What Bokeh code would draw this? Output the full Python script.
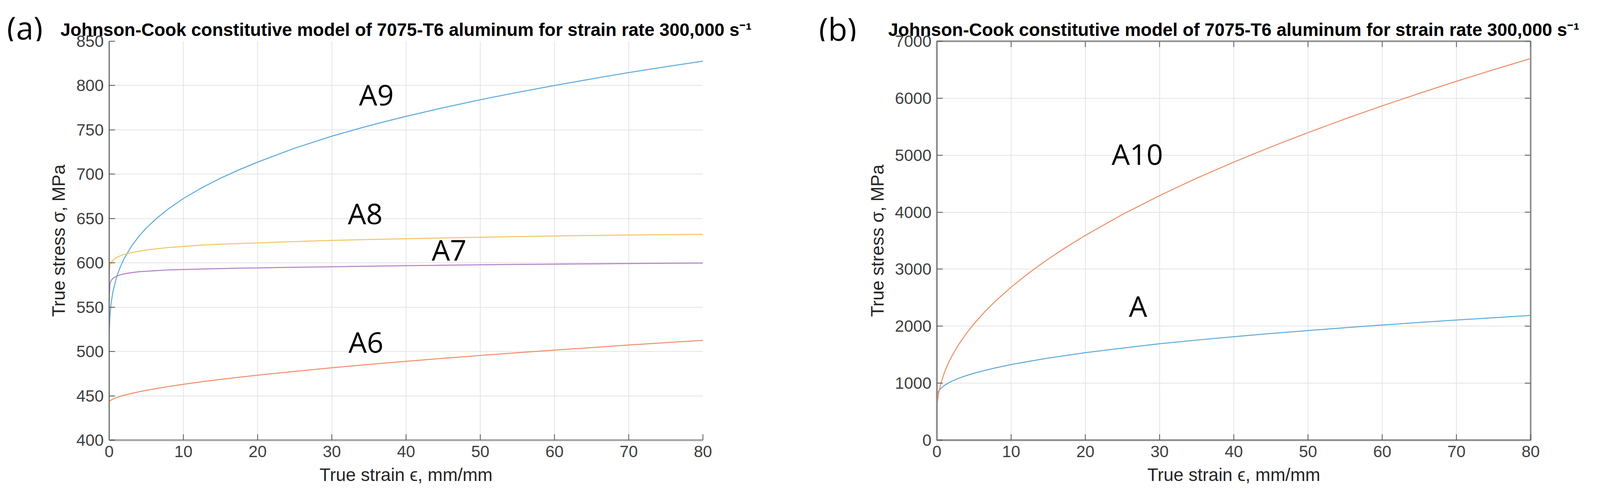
import math
from bokeh.plotting import figure
from bokeh.models import FixedTicker, Range1d
from bokeh.layouts import row
from bokeh.embed import file_html
from bokeh.resources import INLINE
from bokeh.core.properties import value

# ---- data ----
strain = [0, 0.02, 0.1, 0.25, 0.5, 1, 1.5, 2, 3, 4, 5, 6.5, 8, 10, 12.5, 15,
          17.5, 20, 25, 30, 35, 40, 45, 50, 55, 60, 65, 70, 75, 80]

# panel (a)
a9 = [495, 522.5, 539.6, 553.7, 567.3, 584, 595.5, 604.6, 618.7, 630, 639.3,
      651, 661, 672.6, 684.8, 695.5, 705, 713.6, 729.4, 742.9, 754.7, 765.3,
      775, 784, 792.3, 800.1, 807.5, 814.6, 821.2, 827.5]
a8 = [579, 590, 597, 600, 603, 606, 608, 609.5, 611.5, 613, 614.5, 616, 617.3,
      618.5, 620, 621, 621.8, 622.5, 624, 625.3, 626.3, 627.2, 628.1, 628.9,
      629.6, 630.3, 630.9, 631.4, 631.8, 632.2]
a7 = [475, 560, 576, 580, 582.5, 585, 586.5, 587.5, 589, 590, 590.5, 591.3,
      592, 592.5, 593, 593.5, 594, 594.3, 595, 595.6, 596.2, 596.8, 597.3,
      597.8, 598.2, 598.6, 598.9, 599.2, 599.5, 599.8]
a6 = [443, 443.5, 444.3, 445.2, 446.3, 448, 449.4, 450.6, 452.7, 454.5, 456.2,
      458.4, 460.5, 463, 465.9, 468.5, 471, 473.3, 477.6, 481.6, 485.4, 488.9,
      492.3, 495.5, 498.6, 501.6, 504.4, 507.3, 510, 512.6]

# panel (b)
a10 = [490, 588, 709, 837, 981, 1184, 1340, 1471, 1692, 1878, 2042, 2260,
       2453, 2685, 2944, 3178, 3393, 3594, 3960, 4291, 4596, 4879, 5145, 5397,
       5637, 5866, 6085, 6297, 6500, 6697]
a_base = [750, 787, 826, 864, 904, 959, 1000, 1034, 1089, 1135, 1174, 1226,
          1272, 1326, 1385, 1440, 1488, 1535, 1615, 1692, 1756, 1815, 1872,
          1923, 1973, 2020, 2065, 2108, 2148, 2188]

x_ticks = [0, 10, 20, 30, 40, 50, 60, 70, 80]
y_ticks_a = [400, 450, 500, 550, 600, 650, 700, 750, 800, 850]
y_ticks_b = [0, 1000, 2000, 3000, 4000, 5000, 6000, 7000]

title_text = ("Johnson-Cook constitutive model of 7075-T6 aluminum "
              "for strain rate 300,000 s\u207b\u00b9")
curve_names_a = ["A9", "A8", "A7", "A6"]
curve_names_b = ["A10", "A"]

C_BLUE = "#5aa8dc"
C_ORANGE = "#ef8b66"
C_YELLOW = "#f2c35c"
C_PURPLE = "#b07cc4"

TICK_FONT = "Liberation Sans"
LABEL_FONT = "Open Sans"


def style_axis(ax, line_color, line_width):
    ax.axis_line_color = line_color
    ax.axis_line_width = line_width
    ax.major_tick_line_color = "#555555"
    ax.major_tick_line_width = 2
    ax.major_tick_in = 15
    ax.major_tick_out = 0
    ax.minor_tick_line_color = None
    ax.major_label_text_font = TICK_FONT
    ax.major_label_text_font_size = "42px"
    ax.major_label_text_color = "#404040"
    ax.axis_label_text_font = TICK_FONT
    ax.axis_label_text_font_size = "46px"
    ax.axis_label_text_font_style = "normal"
    ax.axis_label_text_color = "#262626"


def make_fig(ymin, ymax, yticks, left, right, boxed, title_offset):
    p = figure(frame_width=1520, frame_height=1021,
               min_border_left=left, min_border_right=right,
               min_border_top=105, min_border_bottom=135,
               x_range=Range1d(0, 80), y_range=Range1d(ymin, ymax),
               output_backend="svg", toolbar_location=None)
    p.background_fill_color = "white"
    p.border_fill_color = "white"
    p.title.text = title_text
    p.title.text_font = TICK_FONT
    p.title.text_font_size = "46px"
    p.title.text_font_style = "bold"
    p.title.text_color = "black"
    p.title.align = "center"
    p.title.standoff = 8
    p.title.offset = title_offset
    p.xaxis.ticker = FixedTicker(ticks=x_ticks)
    p.yaxis.ticker = FixedTicker(ticks=yticks)
    p.xaxis.axis_label = "True strain \u03f5, mm/mm"
    p.yaxis.axis_label = "True stress \u03c3, MPa"
    p.xaxis.major_label_standoff = 14
    p.yaxis.major_label_standoff = 14
    p.xaxis.axis_label_standoff = 16
    p.yaxis.axis_label_standoff = 16
    p.grid.grid_line_color = "#e4e4e4"
    p.grid.grid_line_width = 2
    if boxed:
        style_axis(p.xaxis[0], "#8c8c8c", 4)
        style_axis(p.yaxis[0], "#8c8c8c", 4)
        p.outline_line_color = "#8c8c8c"
        p.outline_line_width = 4
        # inward ticks on the top and right edges of the box
        p.ray(x=x_ticks, y=ymax, length=15, length_units="screen",
              angle=-math.pi / 2, line_color="#555555", line_width=2)
        p.ray(x=80, y=yticks, length=15, length_units="screen",
              angle=math.pi, line_color="#555555", line_width=2)
    else:
        style_axis(p.xaxis[0], "#a8a8a8", 5)
        style_axis(p.yaxis[0], "#6e6e6e", 3)
        p.outline_line_color = None
    return p


def make_tag(tag, cx, base_y):
    t = figure(title=None, width=112, height=135, x_range=Range1d(0, 112),
               y_range=Range1d(135, 0), min_border=0,
               x_axis_type=None, y_axis_type=None,
               output_backend="svg", toolbar_location=None)
    t.grid.visible = False
    t.outline_line_color = None
    t.background_fill_color = "white"
    t.border_fill_color = "white"
    t.text(x=[cx], y=[base_y], text=[tag], text_font=value(LABEL_FONT),
           text_font_size="80px", text_align="center",
           text_baseline="alphabetic", text_color="black")
    return t


def add_names(p, xs, ys, names):
    p.text(x=xs, y=ys, text=names, text_font=value(LABEL_FONT),
           text_font_size="74px", text_align="center",
           text_baseline="middle", text_color="black")


# ---- panel (a) ----
tag_a = make_tag("(a)", 63, 89)
pa = make_fig(400, 850, y_ticks_a, 167, 291, boxed=False, title_offset=0)
pa.line(strain, a9, line_color=C_BLUE, line_width=2.5)
pa.line(strain, a6, line_color=C_ORANGE, line_width=2.5)
pa.line(strain, a8, line_color=C_YELLOW, line_width=2.5)
pa.line(strain, a7, line_color=C_PURPLE, line_width=2.5)
add_names(pa, [36.0, 34.5, 45.8, 34.6], [790, 656, 615, 511], curve_names_a)

# ---- panel (b) ----
tag_b = make_tag("(b)", 54, 92)
pb = make_fig(0, 7000, y_ticks_b, 196, 180, boxed=True, title_offset=14)
pb.line(strain, a_base, line_color=C_BLUE, line_width=2.5)
pb.line(strain, a10, line_color=C_ORANGE, line_width=2.5)
add_names(pb, [27.0, 27.1], [5025, 2358], curve_names_b)

layout = row(tag_a, pa, tag_b, pb)
open("out.html", "w").write(file_html(layout, INLINE))
